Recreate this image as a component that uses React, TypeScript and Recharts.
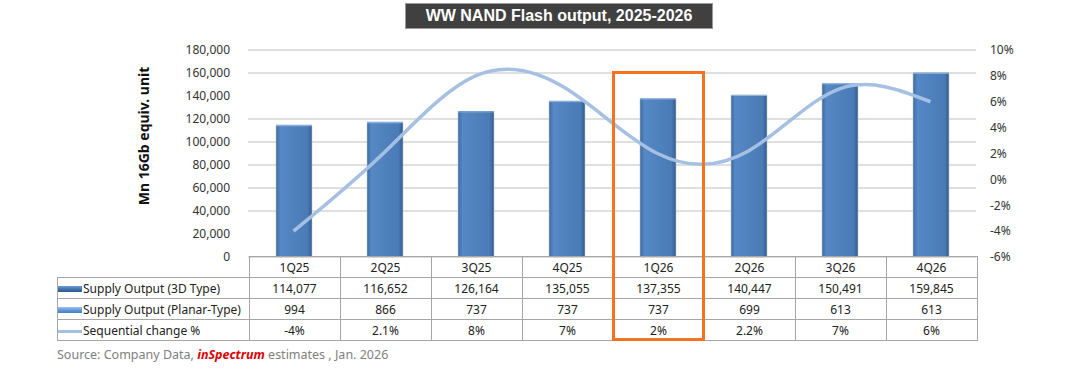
import { ComposedChart, Bar, Line, XAxis, YAxis, CartesianGrid } from "recharts"

const quarters = ["1Q25", "2Q25", "3Q25", "4Q25", "1Q26", "2Q26", "3Q26", "4Q26"]
const output3D = [114077, 116652, 126164, 135055, 137355, 140447, 150491, 159845]
const outputPlanar = [994, 866, 737, 737, 737, 699, 613, 613]
const seqChange = [-4, 2.1, 8, 7, 2, 2.2, 7, 6]
const seqLabels = ["-4%", "2.1%", "8%", "7%", "2%", "2.2%", "7%", "6%"]
const leftTicks = [0, 20000, 40000, 60000, 80000, 100000, 120000, 140000, 160000, 180000]
const rightTicks = [-6, -4, -2, 0, 2, 4, 6, 8, 10]

const data = quarters.map((q, i) => ({
  quarter: q,
  d3: output3D[i],
  planar: outputPlanar[i],
  seq: seqChange[i],
}))

const font = "'Noto Sans', 'DejaVu Sans', sans-serif"
const border = "1px solid #a6a6a6"
const colW = 91
const labelW = 191

function LegendIcon({ kind }: { kind: "d3" | "planar" | "line" }) {
  if (kind === "line") {
    return <span style={{ display: "inline-block", width: 24, height: 3, background: "#a5c0e3", verticalAlign: "middle", marginRight: 1 }} />
  }
  const bg = kind === "d3"
    ? "linear-gradient(#6e9bd1, #3f6fa8 60%, #2f5a90)"
    : "linear-gradient(#9cc3ee, #5b93d3 60%, #4a7fc0)"
  return <span style={{ display: "inline-block", width: 24, height: 6, background: bg, verticalAlign: "middle", marginRight: 1 }} />
}

export default function App() {
  const rows: { kind: "d3" | "planar" | "line"; name: string; vals: string[] }[] = [
    { kind: "d3", name: "Supply Output (3D Type)", vals: output3D.map((v) => v.toLocaleString("en-US")) },
    { kind: "planar", name: "Supply Output (Planar-Type)", vals: outputPlanar.map((v) => v.toLocaleString("en-US")) },
    { kind: "line", name: "Sequential change %", vals: seqLabels },
  ]
  const cell: React.CSSProperties = { border, width: colW, textAlign: "center", padding: 0, height: 21, boxSizing: "border-box" }

  return (
    <div style={{ position: "absolute", left: 0, top: 0, width: 1080, height: 383, background: "#fff", fontFamily: font }}>
      <ComposedChart width={1080} height={383} data={data}
        margin={{ top: 50, right: 54, bottom: 126, left: 188 }}>
        <defs>
          <linearGradient id="barGrad" x1="0" y1="0" x2="1" y2="0">
            <stop offset="0%" stopColor="#3a6aa2" />
            <stop offset="12%" stopColor="#5588c4" />
            <stop offset="50%" stopColor="#4f81bd" />
            <stop offset="88%" stopColor="#4a7bb6" />
            <stop offset="100%" stopColor="#2f5b90" />
          </linearGradient>
        </defs>
        <CartesianGrid vertical={false} stroke="#bfbfbf" yAxisId="left" />
        <XAxis dataKey="quarter" hide />
        <YAxis yAxisId="left" width={60} domain={[0, 180000]} ticks={leftTicks}
          tickLine={false} axisLine={false} tickMargin={12}
          tick={{ fontSize: 12, fill: "#333", fontFamily: font }}
          tickFormatter={(v) => Number(v).toLocaleString("en-US")} />
        <YAxis yAxisId="right" orientation="right" width={50} domain={[-6, 10]} ticks={rightTicks}
          tickLine={false} axisLine={false} tickMargin={8}
          tick={{ fontSize: 12, fill: "#333", fontFamily: font, textAnchor: "start" }}
          tickFormatter={(v) => `${v}%`} />
        <Bar yAxisId="left" dataKey="d3" stackId="a" barSize={36} fill="url(#barGrad)"
          stroke="#c8c8c8" strokeWidth={0.6} isAnimationActive={false} />
        <Bar yAxisId="left" dataKey="planar" stackId="a" barSize={36} fill="#6fa0dc" isAnimationActive={false} />
        <Line yAxisId="right" type="natural" dataKey="seq" stroke="#a5c0e3" strokeWidth={3.5}
          dot={false} isAnimationActive={false} />
      </ComposedChart>

      <div style={{
        position: "absolute", left: 405, top: 3, width: 308, height: 26, boxSizing: "border-box",
        background: "#404040", border: "1px solid #9a9a9a", color: "#fff",
        fontFamily: "'Liberation Sans', Arial, sans-serif", fontWeight: "bold", fontSize: 16,
        textAlign: "center", lineHeight: "24px",
      }}>WW NAND Flash output, 2025-2026</div>

      <svg style={{ position: "absolute", left: 0, top: 0 }} width={200} height={260}>
        <text x={143} y={136} transform="rotate(-90 143 136)" textAnchor="middle" dominantBaseline="central"
          fontFamily={font} fontWeight="bold" fontSize={14} fill="#111">Mn 16Gb equiv. unit</text>
      </svg>

      <table style={{
        position: "absolute", left: 57, top: 256, borderCollapse: "collapse", tableLayout: "fixed",
        fontSize: 12, color: "#222", fontFamily: font,
      }}>
        <tbody>
          <tr>
            <td style={{ width: labelW, padding: 0, borderRight: border }} />
            {quarters.map((q) => <td key={q} style={cell}>{q}</td>)}
          </tr>
          {rows.map((r) => (
            <tr key={r.name}>
              <td style={{ border, width: labelW, padding: "0 0 0 0", height: 21, whiteSpace: "nowrap", boxSizing: "border-box" }}>
                <LegendIcon kind={r.kind} />{r.name}
              </td>
              {r.vals.map((v, i) => <td key={i} style={cell}>{v}</td>)}
            </tr>
          ))}
        </tbody>
      </table>

      <div style={{
        position: "absolute", left: 612, top: 71, width: 93, height: 270, boxSizing: "border-box",
        border: "3px solid #f4731f",
      }} />

      <div style={{ position: "absolute", left: 57, top: 346, fontSize: 12.5, color: "#808080", fontFamily: font }}>
        Source: Company Data, <span style={{ color: "#e00000", fontWeight: "bold", fontStyle: "italic" }}>inSpectrum</span> estimates , Jan. 2026
      </div>
    </div>
  )
}
